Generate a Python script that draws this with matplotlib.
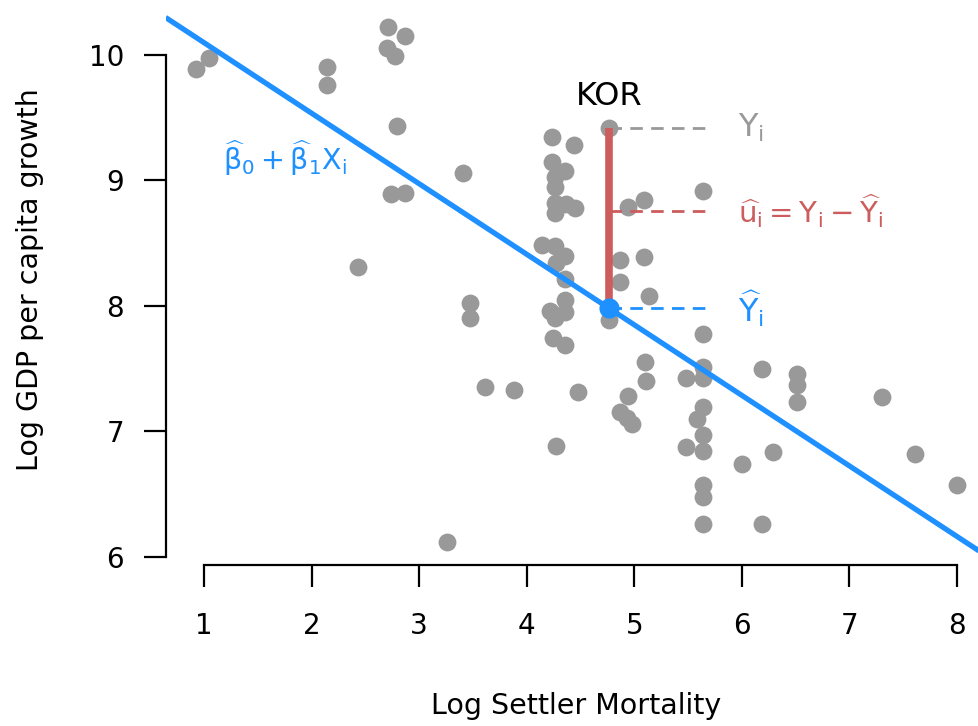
import matplotlib
matplotlib.use("Agg")
import matplotlib.pyplot as plt
import numpy as np

# settler mortality vs gdp
log_mortality = [0.926, 1.049, 2.141, 2.141, 2.708, 2.869, 2.698, 2.776, 2.791, 3.412,
                 2.736, 2.869, 2.429, 3.473, 3.473, 3.612, 3.882, 3.256, 4.232, 4.442,
                 4.232, 4.356, 4.263, 4.263, 4.263, 4.365, 4.449, 4.263, 4.944, 5.093,
                 5.636, 4.142, 4.263, 4.356, 4.270, 4.356, 4.867, 5.093, 4.867, 5.139,
                 4.356, 4.217, 4.356, 4.263, 4.770, 4.244, 4.356, 5.100, 5.106, 4.480,
                 4.944, 4.867, 4.930, 4.976, 5.481, 5.481, 4.270, 5.636, 5.636, 5.636,
                 6.185, 6.510, 6.510, 6.510, 7.300, 5.636, 5.586, 5.636, 5.636, 6.287,
                 5.999, 7.610, 7.997, 5.636, 5.636, 5.636, 6.185]
log_gdp = [9.886, 9.974, 9.907, 9.761, 10.225, 10.154, 10.058, 9.992, 9.434, 9.062,
           8.892, 8.898, 8.308, 8.022, 7.907, 7.357, 7.331, 6.117, 9.343, 9.283,
           9.146, 9.078, 9.028, 8.951, 8.818, 8.809, 8.778, 8.739, 8.785, 8.845,
           8.912, 8.488, 8.477, 8.396, 8.343, 8.213, 8.369, 8.390, 8.194, 8.077,
           8.048, 7.960, 7.951, 7.904, 7.886, 7.741, 7.689, 7.551, 7.405, 7.312,
           7.285, 7.153, 7.105, 7.057, 7.424, 6.874, 6.884, 7.777, 7.516, 7.424,
           7.496, 7.458, 7.371, 7.233, 7.277, 7.193, 7.097, 6.972, 6.845, 6.839,
           6.739, 6.818, 6.571, 6.574, 6.480, 6.261, 6.261]

# the highlighted country
kor_x = 4.768
kor_y = 9.421

# fitted line
intercept = 10.66
slope = -0.562

x_ticks = [1, 2, 3, 4, 5, 6, 7, 8]
y_ticks = [6, 7, 8, 9, 10]

gray = "#999999"
blue = "#1E90FF"
red = "#CD5C5C"

plt.rcParams["font.family"] = "DejaVu Sans"
plt.rcParams["mathtext.fontset"] = "dejavusans"
plt.rcParams["mathtext.default"] = "regular"

fig = plt.figure(figsize=(9.79, 7.26), dpi=100)
ax = fig.add_axes([165.6 / 979, (726 - 565) / 726, (987 - 165.6) / 979, (565 - 6) / 726])
ax.set_xlim(0.643, 8.28)
ax.set_ylim(5.936, 10.39)

ax.scatter(log_mortality + [kor_x], log_gdp + [kor_y], s=165, color=gray, linewidths=0, zorder=2)

xs = np.array(ax.get_xlim())
ax.plot(xs, intercept + slope * xs, color=blue, lw=3.8, zorder=3, solid_capstyle="butt")

kor_fit = intercept + slope * kor_x
resid_mid = 8.757
dash_end = 5.722
label_x = 5.964

# dashed guides
ax.plot([kor_x, dash_end], [kor_y, kor_y], color=gray, lw=2, dashes=(4.5, 3), zorder=4)
ax.plot([kor_x, dash_end], [resid_mid, resid_mid], color=red, lw=2, dashes=(4.5, 3), zorder=4)
ax.plot([kor_x, dash_end], [kor_fit, kor_fit], color=blue, lw=2, dashes=(4.5, 3), zorder=4)

# residual
ax.plot([kor_x, kor_x], [kor_fit, kor_y], color=red, lw=5.5, zorder=5, solid_capstyle="butt")
ax.scatter([kor_x], [kor_fit], s=210, color=blue, linewidths=0, zorder=6)

ax.text(kor_x, 9.665, "KOR", ha="center", va="center", fontsize=23)
ax.text(label_x, kor_y, r"$Y_i$", color=gray, ha="left", va="center", fontsize=23)
ax.text(label_x, resid_mid, r"$\widehat{u}_i = Y_i - \widehat{Y}_i$", color=red, ha="left", va="center", fontsize=21)
ax.text(label_x, kor_fit, r"$\widehat{Y}_i$", color=blue, ha="left", va="center", fontsize=23)
ax.text(1.177, 9.18, r"$\widehat{\beta}_0 + \widehat{\beta}_1 X_i$", color=blue, ha="left", va="center", fontsize=20.5)

ax.spines["top"].set_visible(False)
ax.spines["right"].set_visible(False)
ax.spines["left"].set_bounds(6, 10)
ax.spines["bottom"].set_bounds(1, 8)
ax.spines["left"].set_linewidth(1.6)
ax.spines["bottom"].set_linewidth(1.6)
ax.set_xticks(x_ticks)
ax.set_yticks(y_ticks)
ax.tick_params(axis="both", length=16, width=1.6, labelsize=20)
ax.tick_params(axis="x", pad=18)
ax.tick_params(axis="y", pad=14)

fig.text(576 / 979, 1 - 706 / 726, "Log Settler Mortality", ha="center", va="center", fontsize=20.5)
fig.text(30 / 979, 1 - 280 / 726, "Log GDP per capita growth", ha="center", va="center",
         rotation=90, fontsize=20.5)

fig.savefig("out.png", dpi=100)
